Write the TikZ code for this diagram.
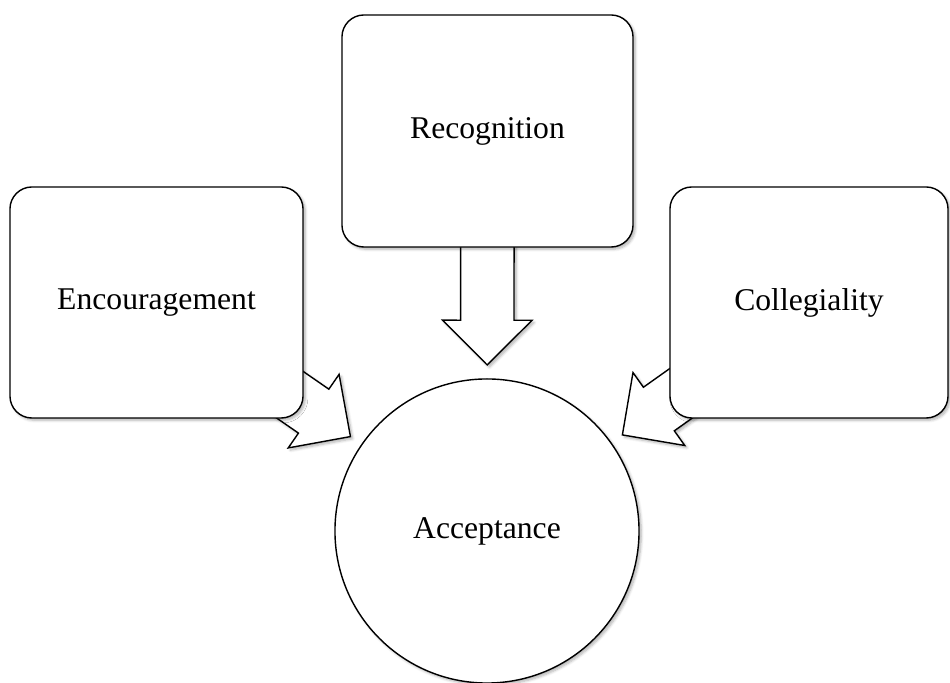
\documentclass[tikz,border=0pt]{standalone}
\usepackage{fontspec}
\setmainfont{Liberation Serif}
\usetikzlibrary{shapes.arrows,shadows.blur,calc,backgrounds}

\begin{document}
\begin{tikzpicture}[x=0.025cm, y=0.025cm,
    every node/.style={font=\fontsize{22.5}{27}\selectfont},
    softshadow/.style={blur shadow={shadow xshift=1.6pt, shadow yshift=-1.6pt, shadow blur steps=6, shadow opacity=30}},
    box/.style={rectangle, rounded corners=0.55cm, draw, line width=1pt, fill=white, softshadow},
    bubble/.style={circle, draw, line width=1pt, fill=white, minimum size=7.6cm, softshadow},
    fatarrow/.style={single arrow, draw, line width=1pt, fill=white, inner xsep=0pt, inner ysep=0.65cm, minimum height=2.975cm, minimum width=2.2cm, single arrow head extend=0.45cm, single arrow tip angle=90, sloped, allow upside down, anchor=tip, softshadow}]

    \useasboundingbox (0,0) rectangle (950,683);

    \node[bubble] (acc) at (487,152) {Acceptance};
    \node[box, minimum width=7.275cm, minimum height=5.8cm] (rec) at (487.5,552) {Recognition};
    \node[box, minimum width=7.325cm, minimum height=5.775cm] (enc) at (156.5,380.5) {Encouragement};
    \node[box, minimum width=6.95cm, minimum height=5.775cm] (coll) at (809,380.5) {Collegiality};

    % block arrows sit behind the boxes
    \begin{scope}[on background layer]
      \path (rec.center) -- ($(acc.center)!4.125cm!(rec.center)$) node[fatarrow, pos=1] (recarrow) {};
      \path (enc.center) -- ($(acc.center)!4.125cm!(enc.center)$) node[fatarrow, pos=1] (encarrow) {};
      \path (coll.center) -- ($(acc.center)!4.125cm!(coll.center)$) node[fatarrow, pos=1] (collarrow) {};
    \end{scope}

  \end{tikzpicture}
\end{document}
